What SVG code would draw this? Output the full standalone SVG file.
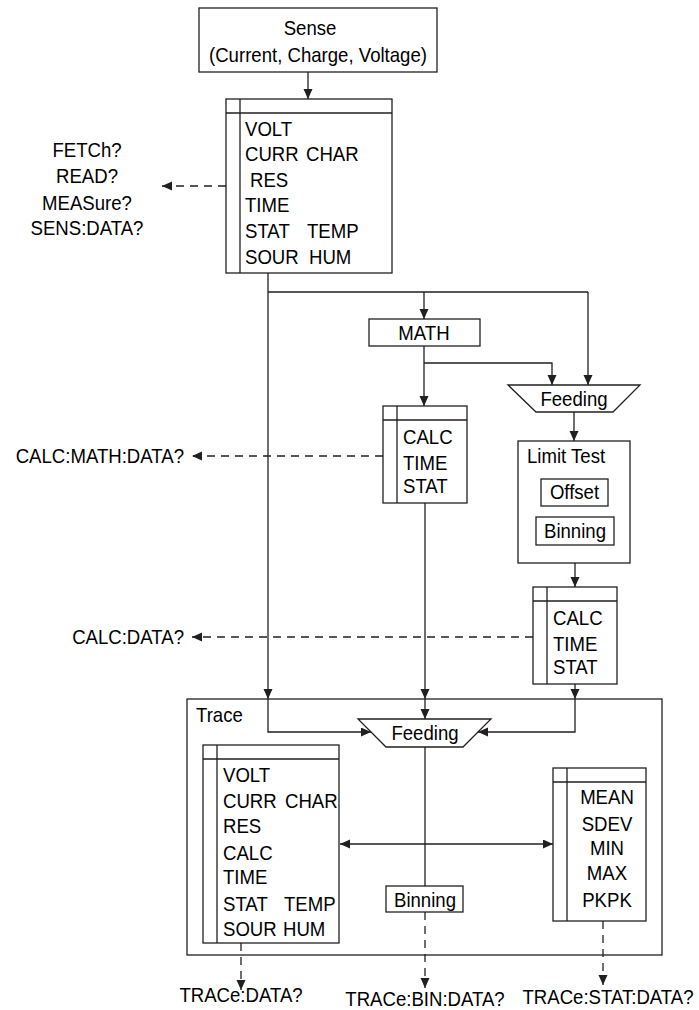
<svg xmlns="http://www.w3.org/2000/svg" width="699" height="1010" viewBox="0 0 699 1010">
<style>
text{font-family:"Liberation Sans",Arial,sans-serif;font-size:20px;fill:#000;transform-box:fill-box;transform-origin:left center;transform:scaleX(0.93)}
.c{text-anchor:middle;transform-origin:center center}
.e{text-anchor:end;transform-origin:right center}
.b{fill:#fff;stroke:#231f20;stroke-width:1.3}
.ln{fill:none;stroke:#231f20;stroke-width:1.3}
.a{marker-end:url(#ah)}
.d{stroke-dasharray:8,6}
</style>
<defs>
<marker id="ah" markerUnits="userSpaceOnUse" markerWidth="10" markerHeight="10" refX="10" refY="4.5" orient="auto">
<path d="M0,0 L10,4.5 L0,9 z" fill="#231f20"/>
</marker>
</defs>
<g id="connectors">
<path class="ln a" d="M308,72 V99"/>
<path class="ln d a" d="M226,186 H162"/>
<path class="ln a" d="M268,273 V699"/>
<path class="ln a" d="M268,699 V732 H371"/>
<path class="ln" d="M268,292 H588"/>
<path class="ln a" d="M424,292 V319"/>
<path class="ln a" d="M588,292 V385"/>
<path class="ln a" d="M424,346 V406"/>
<path class="ln a" d="M424,363 H552 V385"/>
<path class="ln a" d="M574,412 V441"/>
<path class="ln a" d="M575,563 V587"/>
<path class="ln d a" d="M383,456 H192"/>
<path class="ln d a" d="M533,637 H192"/>
<path class="ln a" d="M425,503 V699"/>
<path class="ln a" d="M425,699 V719"/>
<path class="ln a" d="M575,684 V699"/>
<path class="ln a" d="M575,699 V732 H478"/>
<path class="ln" d="M425,747 V886"/>
<path class="ln a" d="M425,844 H340"/>
<path class="ln a" d="M425,844 H553"/>
<path class="ln d a" d="M241,943 V990"/>
<path class="ln d a" d="M425,912 V988"/>
<path class="ln d a" d="M603,921 V985"/>
</g>
<g id="sense">
<rect class="b" x="199" y="8" width="238" height="64"/>
<text class="c" x="310" y="35">Sense</text>
<text class="c" x="318" y="62">(Current, Charge, Voltage)</text>
</g>
<g id="sense-data">
<rect class="b" x="226" y="99" width="166" height="174"/>
<path class="ln" d="M240,99 V273 M226,113 H392"/>
<text x="245" y="136">VOLT</text>
<text x="245" y="161">CURR</text>
<text x="306" y="161">CHAR</text>
<text x="250" y="187">RES</text>
<text x="245" y="212">TIME</text>
<text x="245" y="238">STAT</text>
<text x="307" y="238">TEMP</text>
<text x="245" y="264">SOUR</text>
<text x="309" y="264">HUM</text>
</g>
<g id="fetch-label">
<text class="c" x="87" y="157">FETCh?</text>
<text class="c" x="87" y="183">READ?</text>
<text class="c" x="87" y="210">MEASure?</text>
<text class="c" x="87" y="235">SENS:DATA?</text>
</g>
<g id="math">
<rect class="b" x="369" y="319" width="111" height="27"/>
<text class="c" x="424" y="340">MATH</text>
</g>
<g id="feeding1">
<path class="b" d="M508,385 H640 L613,412 H536 Z"/>
<text class="c" x="574" y="406">Feeding</text>
</g>
<g id="limit-test">
<rect class="b" x="518" y="441" width="112" height="122"/>
<text x="527" y="463">Limit Test</text>
<rect class="b" x="541" y="479" width="67" height="27"/>
<text class="c" x="574.5" y="499">Offset</text>
<rect class="b" x="536" y="517" width="78" height="28"/>
<text class="c" x="575" y="538">Binning</text>
</g>
<g id="math-data">
<rect class="b" x="383" y="406" width="84" height="97"/>
<path class="ln" d="M397,406 V503 M383,420 H467"/>
<text x="403" y="444">CALC</text>
<text x="403" y="470">TIME</text>
<text x="403" y="493">STAT</text>
</g>
<g id="calc-math-label">
<text class="e" x="184" y="463">CALC:MATH:DATA?</text>
</g>
<g id="calc-data">
<rect class="b" x="533" y="587" width="84" height="97"/>
<path class="ln" d="M547,587 V684 M533,601 H617"/>
<text x="553" y="625">CALC</text>
<text x="553" y="651">TIME</text>
<text x="553" y="674">STAT</text>
</g>
<g id="calc-label">
<text class="e" x="184" y="644">CALC:DATA?</text>
</g>
<g id="trace">
<rect class="ln" x="187" y="699" width="475" height="256"/>
<text x="196" y="722">Trace</text>
</g>
<g id="feeding2">
<path class="b" d="M358,719 H491 L463,747 H386 Z"/>
<text class="c" x="425" y="740">Feeding</text>
</g>
<g id="binning">
<rect class="b" x="386" y="886" width="77" height="26"/>
<text class="c" x="425" y="907">Binning</text>
</g>
<g id="trace-data">
<rect class="b" x="203" y="745" width="136" height="198"/>
<path class="ln" d="M217,745 V943 M203,759 H339"/>
<text x="223" y="782">VOLT</text>
<text x="223" y="808">CURR</text>
<text x="285" y="808">CHAR</text>
<text x="223" y="833">RES</text>
<text x="223" y="860">CALC</text>
<text x="223" y="884">TIME</text>
<text x="223" y="911">STAT</text>
<text x="284" y="911">TEMP</text>
<text x="223" y="936">SOUR</text>
<text x="283" y="936">HUM</text>
</g>
<g id="trace-stat">
<rect class="b" x="553" y="768" width="93" height="153"/>
<path class="ln" d="M567,768 V921 M553,782 H646"/>
<text class="c" x="607" y="804">MEAN</text>
<text class="c" x="607" y="831">SDEV</text>
<text class="c" x="607" y="855">MIN</text>
<text class="c" x="607" y="880">MAX</text>
<text class="c" x="607" y="907">PKPK</text>
</g>
<g id="bottom-labels">
<text class="c" x="241" y="1002">TRACe:DATA?</text>
<text class="c" x="425" y="1006">TRACe:BIN:DATA?</text>
<text class="c" x="608" y="1004">TRACe:STAT:DATA?</text>
</g>
</svg>
